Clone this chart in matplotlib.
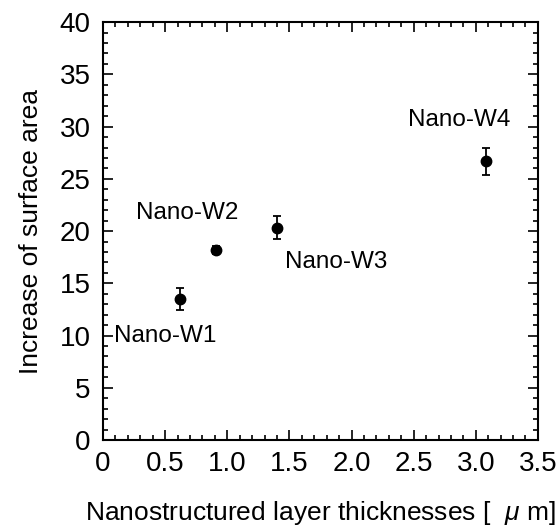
import matplotlib
matplotlib.use('Agg')
import matplotlib.pyplot as plt
from matplotlib.ticker import MultipleLocator, FixedLocator

plt.rcParams['font.family'] = ['Liberation Sans', 'DejaVu Sans']
plt.rcParams['mathtext.fontset'] = 'custom'
plt.rcParams['mathtext.it'] = 'Liberation Sans:italic'

names = ['Nano-W1', 'Nano-W2', 'Nano-W3', 'Nano-W4']
thickness = [0.62, 0.91, 1.40, 3.08]
increase = [13.5, 18.2, 20.3, 26.7]
errors = [1.1, 0.4, 1.1, 1.3]

# label anchor points (data coords)
label_x = [0.09, 0.68, 1.88, 2.87]
label_y = [10.0, 21.7, 17.0, 30.6]
label_ha = ['left', 'center', 'center', 'center']

xticks = [0, 0.5, 1.0, 1.5, 2.0, 2.5, 3.0, 3.5]
xtick_labels = ['0', '0.5', '1.0', '1.5', '2.0', '2.5', '3.0', '3.5']

fig = plt.figure(figsize=(5.58, 5.27), dpi=100)
ax = fig.add_axes([0.1846, 0.165, 0.7794, 0.793])

ax.errorbar(thickness, increase, yerr=errors, fmt='o', color='black',
            markersize=7.5, capsize=3, elinewidth=1.3, capthick=1.3)

for n, x, y, ha in zip(names, label_x, label_y, label_ha):
    ax.text(x, y, n, ha=ha, va='center', fontsize=17.5)

ax.set_xlim(0, 3.5)
ax.set_ylim(0, 40)
ax.xaxis.set_major_locator(FixedLocator(xticks))
ax.set_xticklabels(xtick_labels)
ax.xaxis.set_minor_locator(MultipleLocator(0.1))
ax.yaxis.set_major_locator(MultipleLocator(5))
ax.yaxis.set_minor_locator(MultipleLocator(1))

ax.tick_params(which='both', direction='in', top=True, right=True, width=1.2)
ax.tick_params(which='major', length=7, labelsize=20)
ax.tick_params(axis='y', which='major', pad=9)
ax.tick_params(axis='x', which='major', pad=8)
ax.tick_params(which='minor', length=3.5)
for s in ax.spines.values():
    s.set_linewidth(1.5)

ax.set_ylabel('Increase of surface area', fontsize=19, labelpad=12)
ax.set_xlabel('Nanostructured layer thicknesses [  $\\mu$ m]', fontsize=19, labelpad=16)

fig.savefig('out.png', dpi=100)
